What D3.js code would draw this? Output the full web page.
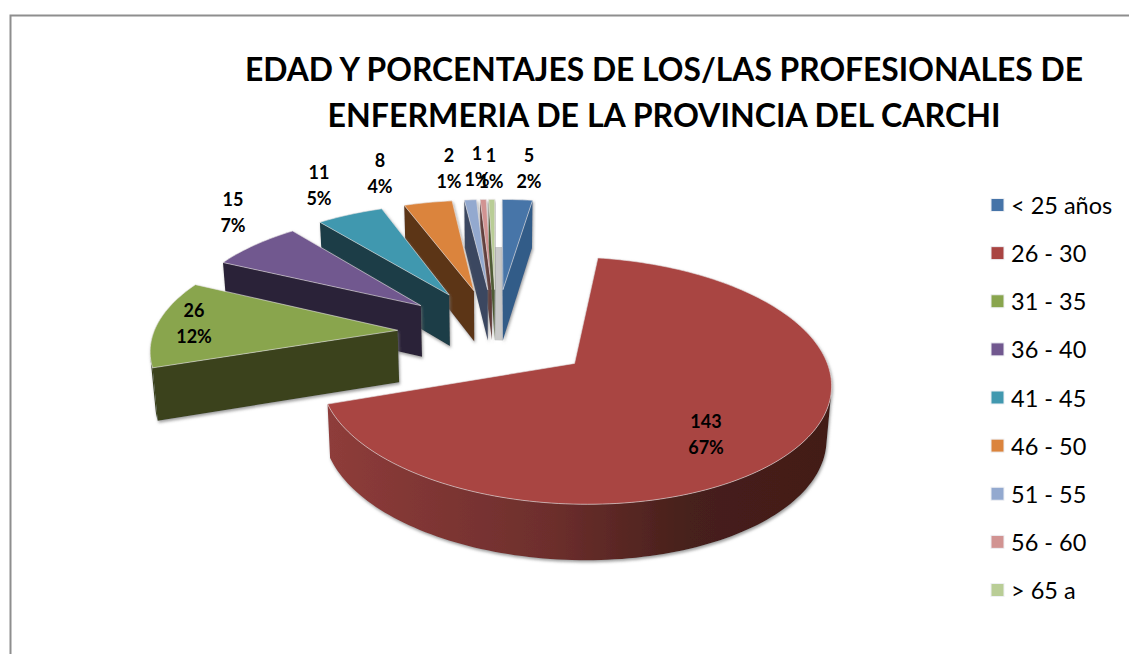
<!DOCTYPE html>
<html>
<head>
<meta charset="utf-8">
<script src="https://cdn.jsdelivr.net/npm/d3@7/dist/d3.min.js"></script>
<style>
  html, body { margin: 0; padding: 0; background: #fff; overflow: hidden; }
  text { font-family: Lato, "Open Sans", sans-serif; fill: #000; }
</style>
</head>
<body>
<div id="content"></div>
<script>
// Values
const categories = ["< 25 años", "26 - 30", "31 - 35", "36 - 40", "41 - 45", "46 - 50", "51 - 55", "56 - 60", "> 65 a"];
const counts = [5, 143, 26, 15, 11, 8, 2, 1, 1];
const percents = ["2%", "67%", "12%", "7%", "5%", "4%", "1%", "1%", "1%"];
const topColors = ["#4674a8", "#a94442", "#89a54e", "#71588f", "#4198af", "#db843d", "#93a9cf", "#d19392", "#b9cd96"];
const sideColors = ["#335c88", "#6d2f2d", "#3a431c", "#2b2138", "#1a3c46", "#5c3517", "#3a4660", "#5e3433", "#4f5c34"];
const titleLines = ["EDAD Y PORCENTAJES DE LOS/LAS PROFESIONALES DE", "ENFERMERIA DE LA PROVINCIA DEL CARCHI"];
const titleWidths = [838, 673];

const width = 1129;
const height = 654;

const svg = d3.select("#content").append("svg")
    .attr("width", width)
    .attr("height", height);

const defs = svg.append("defs");

// soft shadow under the slices
const shadow = defs.append("filter").attr("id", "shadow")
    .attr("x", "-10%").attr("y", "-10%").attr("width", "120%").attr("height", "130%");
shadow.append("feDropShadow")
    .attr("dx", 1).attr("dy", 2).attr("stdDeviation", 1.5)
    .attr("flood-color", "#777").attr("flood-opacity", 0.7);

const soft = defs.append("filter").attr("id", "soft");
soft.append("feGaussianBlur").attr("stdDeviation", 0.45);

// red rim goes dark to the right
const rimGrad = defs.append("linearGradient").attr("id", "rimRed")
    .attr("gradientUnits", "userSpaceOnUse")
    .attr("x1", 330).attr("x2", 830).attr("y1", 0).attr("y2", 0);
rimGrad.append("stop").attr("offset", "0%").attr("stop-color", "#8e3c3a");
rimGrad.append("stop").attr("offset", "45%").attr("stop-color", "#6c2e2c");
rimGrad.append("stop").attr("offset", "72%").attr("stop-color", "#46201b");
rimGrad.append("stop").attr("offset", "100%").attr("stop-color", "#431b18");

// frame
svg.append("path")
    .attr("d", d3.line()([[10.5, height], [10.5, 15.5], [width, 15.5]]))
    .attr("fill", "none")
    .attr("stroke", "#8e8e8e")
    .attr("stroke-width", 2);

// title
svg.selectAll(".title").data(titleLines).enter().append("text")
    .attr("class", "title")
    .attr("x", 664)
    .attr("y", (d, i) => 81 + i * 46)
    .attr("text-anchor", "middle")
    .attr("font-size", 33)
    .attr("font-weight", 700)
    .attr("textLength", (d, i) => titleWidths[i])
    .attr("lengthAdjust", "spacingAndGlyphs")
    .text(d => d);

// pie geometry: perspective view of the disc, X to the right and Y into the page, in radius units
const vx = 496, cy = 333;
const rx = 244, ry = 113;
const persp = 0.134;
const explode = 0.405;
const thick = 52;

function project(X, Y) {
    const s = 1 / (1 + persp * Y);
    return [vx + X * rx * s, cy - Y * ry * s];
}

function drop(X, Y) {
    const p = project(X, Y);
    return [p[0] + (vx - p[0]) * 0.015, p[1] + thick * (1 - 0.06 * Y)];
}

const pie = d3.pie().sort(null).value(d => d);
const arcs = pie(counts);

const pieG = svg.append("g").attr("filter", "url(#soft)");

function sliceOffset(d) {
    const mid = (d.startAngle + d.endAngle) / 2;
    return [explode * Math.sin(mid), explode * Math.cos(mid)];
}

function drawSlice(d, i) {
    const [ox, oy] = sliceOffset(d);
    const angles = d3.range(0, 1.0001, 1 / Math.max(2, Math.ceil((d.endAngle - d.startAngle) * 40)))
        .map(t => d.startAngle + t * (d.endAngle - d.startAngle));
    const rim = angles.map(a => [ox + Math.sin(a), oy + Math.cos(a)]);
    const apex = [ox, oy];
    const side = i === 1 ? "url(#rimRed)" : sideColors[i];

    const g = pieG.append("g").attr("filter", "url(#shadow)");

    const wallOf = (pt) => [project(...apex), project(...pt), drop(...pt), drop(...apex)];
    const startWall = wallOf(rim[0]);
    const endWall = wallOf(rim[rim.length - 1]);
    if (d3.polygonArea(startWall) > 0) {
        g.append("path").attr("d", d3.line()(startWall) + "Z").attr("fill", side);
    }
    if (d3.polygonArea(endWall) < 0) {
        g.append("path").attr("d", d3.line()(endWall) + "Z").attr("fill", side);
    }

    // only the part of the rim that faces the viewer
    const facing = rim.slice(0, -1).map((pt, k) => {
        const nx = rim[k + 1];
        return d3.polygonArea([project(...pt), project(...nx), drop(...nx), drop(...pt)]) > 0;
    });
    const shown = rim.filter((pt, k) => facing[k] || facing[k - 1]);
    if (shown.length > 1) {
        const strip = shown.map(pt => project(...pt)).concat(shown.slice().reverse().map(pt => drop(...pt)));
        g.append("path").attr("d", d3.line()(strip) + "Z").attr("fill", side);
    }

    const face = [project(...apex)].concat(rim.map(pt => project(...pt)));
    g.append("path")
        .attr("d", d3.line()(face) + "Z")
        .attr("fill", topColors[i])
        .attr("stroke", "#e8e4e4")
        .attr("stroke-opacity", 0.75)
        .attr("stroke-width", 0.8)
        .attr("stroke-linejoin", "round");
}

// grey shadow in the gap between the first and the last slice
const [blueX, blueY] = sliceOffset(arcs[0]);
const [limeX, limeY] = sliceOffset(arcs[8]);
pieG.append("path")
    .attr("d", d3.line()([
        drop(blueX, blueY + 1), drop(blueX, blueY),
        drop(limeX, limeY), drop(limeX, limeY + 1)
    ]) + "Z")
    .attr("fill", "#c9c9c9");

// far slices first, the big red one last
[0, 7, 8, 6, 5, 4, 3, 2, 1].forEach(i => drawSlice(arcs[i], i));

// data labels, placed by hand like in the source chart
const labelX = [529, 706, 194, 233, 319, 380, 449, 477, 491];
const labelY = [156, 422, 311, 200, 173, 161, 156, 154, 156];
const labels = svg.selectAll(".dataLabel").data(counts).enter().append("g")
    .attr("class", "dataLabel")
    .attr("transform", (d, i) => `translate(${labelX[i]},${labelY[i]})`);
labels.append("text")
    .attr("text-anchor", "middle")
    .attr("y", 6)
    .attr("font-size", 18)
    .attr("font-weight", 700)
    .text(d => d);
labels.append("text")
    .attr("text-anchor", "middle")
    .attr("y", 32)
    .attr("font-size", 18)
    .attr("font-weight", 700)
    .text((d, i) => percents[i]);

// legend
const legendY = d3.scalePoint().domain(categories).range([205, 590]);
const legend = svg.selectAll(".legendItem").data(categories).enter().append("g")
    .attr("class", "legendItem")
    .attr("transform", d => `translate(991,${legendY(d)})`);
legend.append("rect")
    .attr("y", -6.5)
    .attr("width", 13)
    .attr("height", 13)
    .attr("fill", (d, i) => topColors[i])
    .attr("stroke", "#eef0f4");
legend.append("text")
    .attr("x", 20)
    .attr("y", 9)
    .attr("font-size", 23.5)
    .text(d => d);
</script>
</body>
</html>
